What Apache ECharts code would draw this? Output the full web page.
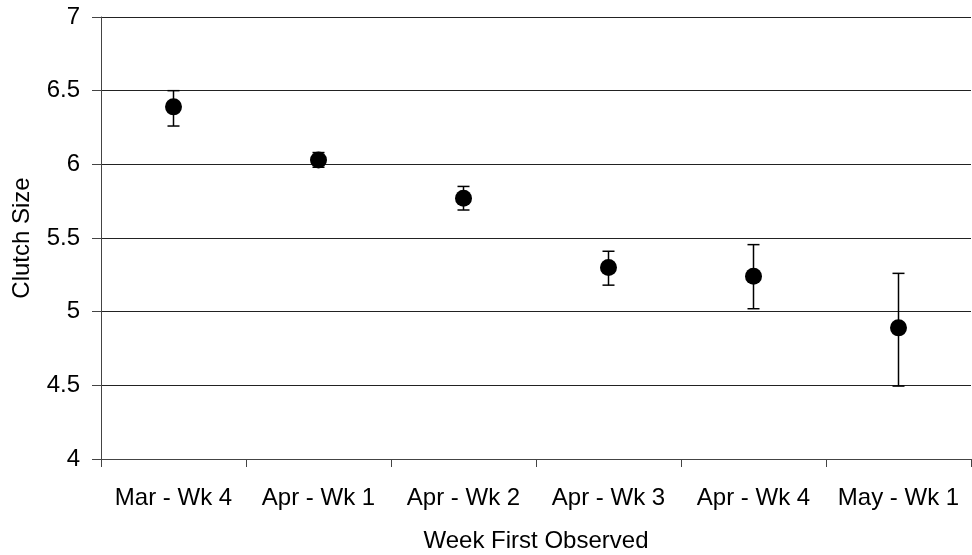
<!DOCTYPE html>
<html>
<head>
<meta charset="utf-8">
<script src="https://cdn.jsdelivr.net/npm/echarts@6/dist/echarts.min.js"></script>
<style>
  html, body { margin: 0; padding: 0; background: #fff; }
  #chart { width: 972px; height: 555px; }
</style>
</head>
<body>
<div id="chart"></div>
<script>
// data
const weeks = ['Mar - Wk 4', 'Apr - Wk 1', 'Apr - Wk 2', 'Apr - Wk 3', 'Apr - Wk 4', 'May - Wk 1']
const clutchMean = [6.39, 6.03, 5.77, 5.30, 5.24, 4.89]
const errLow = [6.26, 5.98, 5.69, 5.18, 5.02, 4.495]
const errHigh = [6.50, 6.08, 5.85, 5.41, 5.455, 5.26]

const chart = echarts.init(document.getElementById('chart'))
const font = 'Liberation Sans, Arial, sans-serif'

const errData = weeks.map((w, i) => [i, errLow[i], errHigh[i]])

const option = {
  animation: false,
  grid: { left: 101, right: 1, top: 17, bottom: 96, containLabel: false, outerBoundsMode: 'none' },
  xAxis: {
    type: 'category',
    data: weeks,
    boundaryGap: true,
    name: 'Week First Observed',
    nameLocation: 'middle',
    nameGap: 70,
    nameTextStyle: { fontFamily: font, fontSize: 24, color: '#000' },
    axisLine: { lineStyle: { color: '#444', width: 1 } },
    axisTick: { show: true, interval: 0, length: 8, alignWithLabel: false, lineStyle: { color: '#444' } },
    axisLabel: { interval: 0, hideOverlap: false, fontFamily: font, fontSize: 24, color: '#000', margin: 27 },
    splitLine: { show: false }
  },
  yAxis: {
    type: 'value',
    min: 4,
    max: 7,
    interval: 0.5,
    name: 'Clutch Size',
    nameLocation: 'middle',
    nameGap: 67,
    nameRotate: 90,
    nameTextStyle: { fontFamily: font, fontSize: 24, color: '#000' },
    axisLine: { show: true, lineStyle: { color: '#444', width: 1 } },
    axisTick: { show: true, length: 9, lineStyle: { color: '#444' } },
    axisLabel: { fontFamily: font, fontSize: 24, color: '#000', margin: 21 },
    splitLine: { show: true, lineStyle: { color: '#222', width: 1 } }
  },
  series: [
    {
      type: 'custom',
      name: 'error',
      data: errData,
      z: 3,
      renderItem (params, api) {
        const x = api.value(0)
        const lo = api.coord([x, api.value(1)])
        const hi = api.coord([x, api.value(2)])
        const half = 6
        const style = { stroke: '#000', lineWidth: 1.5 }
        return {
          type: 'group',
          children: [
            { type: 'line', shape: { x1: lo[0], y1: lo[1], x2: hi[0], y2: hi[1] }, style },
            { type: 'line', shape: { x1: hi[0] - half, y1: hi[1], x2: hi[0] + half, y2: hi[1] }, style },
            { type: 'line', shape: { x1: lo[0] - half, y1: lo[1], x2: lo[0] + half, y2: lo[1] }, style }
          ]
        }
      }
    },
    {
      type: 'scatter',
      name: 'Clutch Size',
      data: clutchMean,
      symbol: 'circle',
      symbolSize: 17,
      z: 4,
      itemStyle: { color: '#000', opacity: 1 }
    }
  ]
}
chart.setOption(option)
</script>
</body>
</html>
